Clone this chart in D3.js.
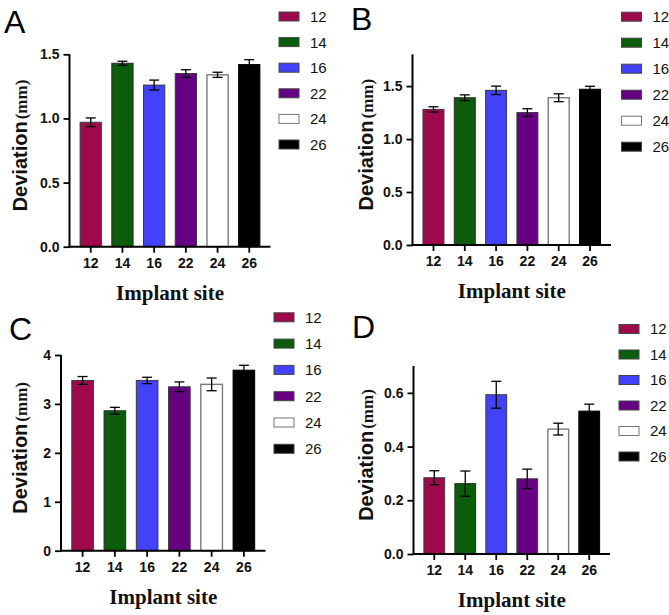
<!DOCTYPE html>
<html>
<head>
<meta charset="utf-8">
<script src="https://cdn.jsdelivr.net/npm/d3@7"></script>
<style>
  html, body { margin: 0; padding: 0; background: #fff; }
  svg { display: block; }
</style>
</head>
<body>
<svg id="chart" width="669" height="615"></svg>
<script>
// ---------- data ----------
const sites = ["12", "14", "16", "22", "24", "26"];

const meanA = [0.97, 1.43, 1.26, 1.35, 1.34, 1.42];
const errA  = [0.034, 0.016, 0.039, 0.03, 0.02, 0.038];
const ticksA = [0, 0.5, 1.0, 1.5];

const meanB = [1.28, 1.39, 1.46, 1.25, 1.39, 1.47];
const errB  = [0.025, 0.027, 0.04, 0.036, 0.037, 0.028];
const ticksB = [0, 0.5, 1.0, 1.5];

const meanC = [3.48, 2.86, 3.48, 3.35, 3.40, 3.69];
const errC  = [0.08, 0.07, 0.065, 0.10, 0.13, 0.10];
const ticksC = [0, 1, 2, 3, 4];

const meanD = [0.284, 0.262, 0.593, 0.28, 0.465, 0.532];
const errD  = [0.026, 0.047, 0.05, 0.036, 0.022, 0.026];
const ticksD = [0, 0.2, 0.4, 0.6];

const panelLetters = ["A", "B", "C", "D"];
const yTitle = "Deviation";
const yUnit = "(mm)";
const xTitle = "Implant site";

// ---------- styles ----------
const fills   = ["#9e0a4c", "#0b5c0b", "#4242fb", "#660282", "#ffffff", "#000000"];
const strokes = ["#3a3a3a", "#2a2a2a", "#3a3a3a", "#3a3a3a", "#7a7a7a", "#000000"];

const svg = d3.select("#chart");
const SANS = "'Liberation Sans', Arial, sans-serif";
const SERIF = "'Liberation Serif', 'Times New Roman', serif";

function panel(cfg) {
  const g = svg.append("g");
  const x = d3.scaleBand().domain(sites).range([cfg.x0, cfg.x1])
    .paddingInner(0.33).paddingOuter(0.335);
  const y = d3.scaleLinear().domain([0, cfg.ymax]).range([cfg.y0, cfg.yTop]);

  // bars
  g.selectAll("rect.bar").data(cfg.mean).join("rect")
    .attr("x", (d, i) => x(sites[i]))
    .attr("y", d => y(d))
    .attr("width", x.bandwidth())
    .attr("height", d => y(0) - y(d))
    .attr("fill", (d, i) => fills[i])
    .attr("stroke", (d, i) => strokes[i])
    .attr("stroke-width", (d, i) => i === 4 ? 1.4 : 1);

  // error bars
  const cap = 5;
  const eb = g.selectAll("g.eb").data(cfg.mean).join("g");
  eb.append("line")
    .attr("x1", (d, i) => x(sites[i]) + x.bandwidth() / 2)
    .attr("x2", (d, i) => x(sites[i]) + x.bandwidth() / 2)
    .attr("y1", (d, i) => y(d - cfg.err[i]))
    .attr("y2", (d, i) => y(d + cfg.err[i]));
  eb.append("line")
    .attr("x1", (d, i) => x(sites[i]) + x.bandwidth() / 2 - cap)
    .attr("x2", (d, i) => x(sites[i]) + x.bandwidth() / 2 + cap)
    .attr("y1", (d, i) => y(d + cfg.err[i]))
    .attr("y2", (d, i) => y(d + cfg.err[i]));
  eb.append("line")
    .attr("x1", (d, i) => x(sites[i]) + x.bandwidth() / 2 - cap)
    .attr("x2", (d, i) => x(sites[i]) + x.bandwidth() / 2 + cap)
    .attr("y1", (d, i) => y(d - cfg.err[i]))
    .attr("y2", (d, i) => y(d - cfg.err[i]));
  eb.selectAll("line").attr("stroke", "#000").attr("stroke-width", 1.3);

  // y axis
  const yAxis = g.append("g")
    .attr("transform", `translate(${cfg.x0},0)`)
    .call(d3.axisLeft(y).tickValues(cfg.ticks).tickFormat(d3.format(cfg.fmt))
      .tickSize(6).tickSizeOuter(0).tickPadding(4));
  yAxis.select(".domain").attr("stroke-width", 2).attr("stroke", "#000")
    .attr("d", `M0,${cfg.y0 + 1}V${cfg.yTop}`);
  yAxis.selectAll(".tick line").attr("stroke-width", 1.8);
  yAxis.selectAll("text").attr("font-family", SANS).attr("font-weight", "bold")
    .attr("font-size", 14).attr("fill", "#111");

  // x axis
  const xAxis = g.append("g")
    .attr("transform", `translate(0,${cfg.y0})`)
    .call(d3.axisBottom(x).tickSize(6).tickSizeOuter(0).tickPadding(5));
  xAxis.select(".domain").attr("stroke-width", 2).attr("stroke", "#000")
    .attr("d", `M${cfg.x0 - 1},0H${cfg.x1}`);
  xAxis.selectAll(".tick line").attr("stroke-width", 1.8);
  xAxis.selectAll("text").attr("font-family", SANS).attr("font-weight", "bold")
    .attr("font-size", 14).attr("fill", "#111");

  // y title
  const yt = g.append("text")
    .attr("transform", `translate(${cfg.ytx},${(cfg.y0 + cfg.yTop) / 2 - 5}) rotate(-90)`)
    .attr("text-anchor", "middle")
    .attr("fill", "#111");
  yt.append("tspan").attr("font-family", SANS).attr("font-weight", "bold")
    .attr("font-size", 20).text(yTitle);
  yt.append("tspan").attr("font-family", SERIF).attr("font-weight", "bold")
    .attr("font-size", 17).attr("dx", 2).text(yUnit);

  // x title
  g.append("text")
    .attr("x", (cfg.x0 + cfg.x1) / 2)
    .attr("y", cfg.y0 + 53)
    .attr("text-anchor", "middle")
    .attr("font-family", SERIF).attr("font-weight", "bold")
    .attr("font-size", 21).attr("fill", "#111")
    .text(xTitle);

  // panel letter
  g.append("text")
    .attr("x", cfg.lx).attr("y", cfg.ly)
    .attr("font-family", SANS)
    .attr("font-size", 32).attr("fill", "#000")
    .text(cfg.letter);

  // legend
  const lg = g.append("g").attr("transform", `translate(${cfg.legX},${cfg.legY})`);
  const items = lg.selectAll("g").data(sites).join("g")
    .attr("transform", (d, i) => `translate(0,${i * cfg.legStep})`);
  items.append("rect")
    .attr("x", 0).attr("y", -4.5).attr("width", 20).attr("height", 9)
    .attr("fill", (d, i) => fills[i])
    .attr("stroke", (d, i) => i === 4 ? "#777" : "#444")
    .attr("stroke-width", 1);
  items.append("text")
    .attr("x", 31).attr("y", 0).attr("dy", "0.36em")
    .attr("font-family", SANS).attr("font-size", 15).attr("fill", "#111")
    .text(d => d);
}

panel({ letter: panelLetters[0], mean: meanA, err: errA, ticks: ticksA, fmt: ".1f", ymax: 1.5,
  x0: 69.5, x1: 270.5, y0: 246.7, yTop: 54.3, ytx: 27, lx: 4, ly: 33,
  legX: 279, legY: 16.5, legStep: 25.6 });
panel({ letter: panelLetters[1], mean: meanB, err: errB, ticks: ticksB, fmt: ".1f", ymax: 1.8,
  x0: 412.5, x1: 611, y0: 245, yTop: 54.3, ytx: 373, lx: 351, ly: 30,
  legX: 621.5, legY: 16.7, legStep: 26 });
panel({ letter: panelLetters[2], mean: meanC, err: errC, ticks: ticksC, fmt: "d", ymax: 4,
  x0: 61, x1: 265.5, y0: 550.7, yTop: 355, ytx: 27, lx: 9, ly: 340,
  legX: 274, legY: 317.3, legStep: 26.3 });
panel({ letter: panelLetters[3], mean: meanD, err: errD, ticks: ticksD, fmt: ".1f", ymax: 0.7,
  x0: 413.5, x1: 610, y0: 554, yTop: 366, ytx: 373, lx: 352, ly: 338,
  legX: 619, legY: 329, legStep: 25.5 });
</script>
</body>
</html>
